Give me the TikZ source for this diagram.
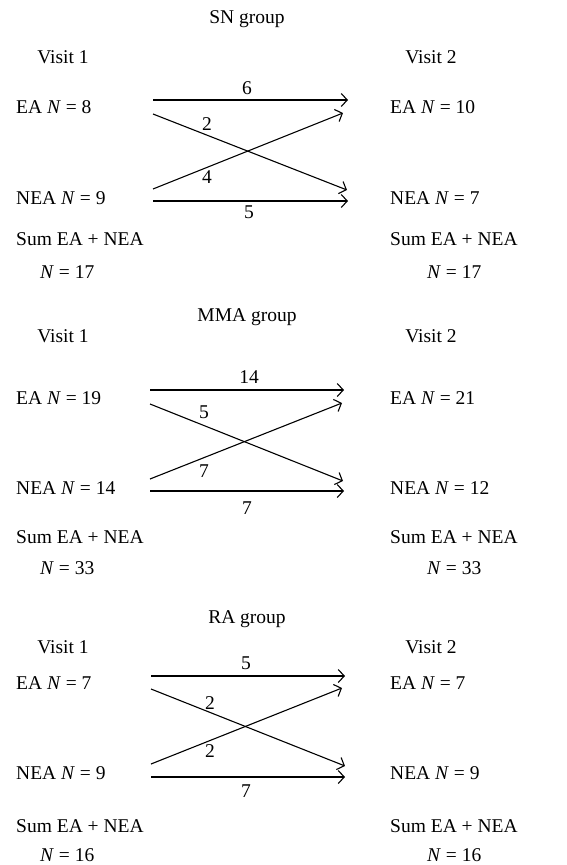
\documentclass[tikz,border=0pt]{standalone}
\usepackage{fontspec}
\setmainfont{Liberation Serif}
\usetikzlibrary{arrows.meta}
\tikzset{
  txt/.style={font=\fontsize{19.5}{22}\selectfont,inner sep=0pt,text height=13pt,text depth=0pt},
  lft/.style={txt,anchor=west},
  arr/.style={-{Straight Barb[length=6pt,width=13pt]},line width=1.1pt},
}

\begin{document}
\begin{tikzpicture}[x=1pt,y=-1pt]
  \useasboundingbox (0,0) rectangle (566,865);
  % SN group
  \node[txt] (snT) at (247,17) {SN group};
  \node[txt] (snV1) at (63,57) {Visit 1};
  \node[txt] (snV2) at (431,57) {Visit 2};
  \node[lft] (snEA1) at (16,106.5) {EA \textit{N} = 8};
  \node[lft] (snNEA1) at (16,197.5) {NEA \textit{N} = 9};
  \node[lft] (snS1) at (16,238.5) {Sum EA + NEA};
  \node[lft] (snN1) at (40,271.5) {\textit{N} = 17};
  \node[lft] (snEA2) at (390,106.5) {EA \textit{N} = 10};
  \node[lft] (snNEA2) at (390,197.5) {NEA \textit{N} = 7};
  \node[lft] (snS2) at (390,238.5) {Sum EA + NEA};
  \node[lft] (snN2) at (427,271.5) {\textit{N} = 17};
  \coordinate (sna1) at (153,100); \coordinate (sna2) at (348,100);
  \coordinate (snb1) at (153,114); \coordinate (snb2) at (347,190);
  \coordinate (snc1) at (153,189); \coordinate (snc2) at (343,113);
  \coordinate (snd1) at (153,201); \coordinate (snd2) at (348,201);
  \draw[arr] (sna1) -- (sna2);
  \draw[arr] (snb1) -- (snb2);
  \draw[arr] (snc1) -- (snc2);
  \draw[arr] (snd1) -- (snd2);
  \node[txt] (sn6) at (247,88) {6};
  \node[txt] (sn2) at (207,124) {2};
  \node[txt] (sn4) at (207,177) {4};
  \node[txt] (sn5) at (249,212) {5};

  % MMA group
  \node[txt] (mmT) at (247,315) {MMA group};
  \node[txt] (mmV1) at (63,336) {Visit 1};
  \node[txt] (mmV2) at (431,336) {Visit 2};
  \node[lft] (mmEA1) at (16,398) {EA \textit{N} = 19};
  \node[lft] (mmNEA1) at (16,488) {NEA \textit{N} = 14};
  \node[lft] (mmS1) at (16,537) {Sum EA + NEA};
  \node[lft] (mmN1) at (40,568) {\textit{N} = 33};
  \node[lft] (mmEA2) at (390,398) {EA \textit{N} = 21};
  \node[lft] (mmNEA2) at (390,488) {NEA \textit{N} = 12};
  \node[lft] (mmS2) at (390,537) {Sum EA + NEA};
  \node[lft] (mmN2) at (427,568) {\textit{N} = 33};
  \coordinate (mma1) at (150,390); \coordinate (mma2) at (344,390);
  \coordinate (mmb1) at (150,404); \coordinate (mmb2) at (343,481);
  \coordinate (mmc1) at (150,479); \coordinate (mmc2) at (342,403);
  \coordinate (mmd1) at (150,491); \coordinate (mmd2) at (344,491);
  \draw[arr] (mma1) -- (mma2);
  \draw[arr] (mmb1) -- (mmb2);
  \draw[arr] (mmc1) -- (mmc2);
  \draw[arr] (mmd1) -- (mmd2);
  \node[txt] (mm14) at (249,377) {14};
  \node[txt] (mm5) at (204,412) {5};
  \node[txt] (mm7a) at (204,471) {7};
  \node[txt] (mm7b) at (247,508) {7};

  % RA group
  \node[txt] (raT) at (247,617) {RA group};
  \node[txt] (raV1) at (63,647) {Visit 1};
  \node[txt] (raV2) at (431,647) {Visit 2};
  \node[lft] (raEA1) at (16,683) {EA \textit{N} = 7};
  \node[lft] (raNEA1) at (16,773) {NEA \textit{N} = 9};
  \node[lft] (raS1) at (16,826) {Sum EA + NEA};
  \node[lft] (raN1) at (40,855) {\textit{N} = 16};
  \node[lft] (raEA2) at (390,683) {EA \textit{N} = 7};
  \node[lft] (raNEA2) at (390,773) {NEA \textit{N} = 9};
  \node[lft] (raS2) at (390,826) {Sum EA + NEA};
  \node[lft] (raN2) at (427,855) {\textit{N} = 16};
  \coordinate (raa1) at (151,676); \coordinate (raa2) at (345,676);
  \coordinate (rab1) at (151,689); \coordinate (rab2) at (345,766);
  \coordinate (rac1) at (151,764); \coordinate (rac2) at (342,688);
  \coordinate (rad1) at (151,777); \coordinate (rad2) at (345,777);
  \draw[arr] (raa1) -- (raa2);
  \draw[arr] (rab1) -- (rab2);
  \draw[arr] (rac1) -- (rac2);
  \draw[arr] (rad1) -- (rad2);
  \node[txt] (ra5) at (246,663) {5};
  \node[txt] (ra2a) at (210,703) {2};
  \node[txt] (ra2b) at (210,751) {2};
  \node[txt] (ra7) at (246,791) {7};
\end{tikzpicture}
\end{document}
